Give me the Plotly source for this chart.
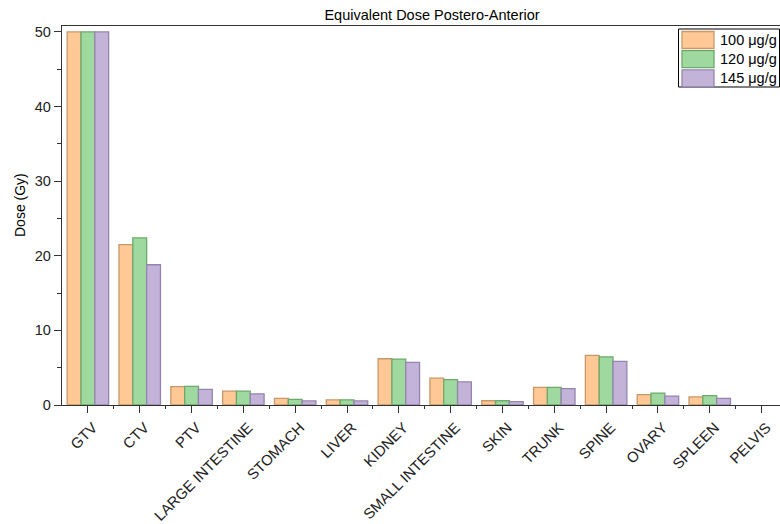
import plotly.graph_objects as go

# Organs / regions of interest
categories = ["GTV", "CTV", "PTV", "LARGE INTESTINE", "STOMACH", "LIVER", "KIDNEY",
              "SMALL INTESTINE", "SKIN", "TRUNK", "SPINE", "OVARY", "SPLEEN", "PELVIS"]

# Equivalent dose (Gy) per activity concentration
dose_100 = [50, 21.5, 2.45, 1.85, 0.9, 0.7, 6.2, 3.6, 0.57, 2.35, 6.65, 1.4, 1.08, 0]
dose_120 = [50, 22.4, 2.5, 1.85, 0.76, 0.7, 6.15, 3.4, 0.57, 2.35, 6.45, 1.6, 1.25, 0]
dose_145 = [50, 18.8, 2.1, 1.5, 0.54, 0.55, 5.7, 3.1, 0.44, 2.2, 5.85, 1.2, 0.9, 0]

series_names = ["100 μg/g", "120 μg/g", "145 μg/g"]
fill_colors = ["#FFC895", "#A0D9A0", "#C3B3D9"]
line_colors = ["#C9986A", "#6BAA6B", "#9585AD"]

FONT = "Arial, Liberation Sans, sans-serif"
W, H = 780, 524
ML, MR, MT, MB = 62, 0, 26, 119
PW, PH = W - ML - MR, H - MT - MB

x_pos = list(range(len(categories)))

fig = go.Figure()
for name, vals, fc, lc in zip(series_names, [dose_100, dose_120, dose_145], fill_colors, line_colors):
    fig.add_trace(go.Bar(
        x=x_pos, y=vals, name=name,
        # zero-height bars get no outline so nothing shows on the axis
        marker=dict(color=fc, line=dict(color=lc, width=[1.3 if v > 0 else 0 for v in vals])),
        showlegend=False,
    ))


def px_x(px):
    return (px - ML) / PW


def px_y(py):
    return (H - MB - py) / PH


# Boxed legend with wide swatches
shapes = [dict(type="rect", xref="paper", yref="paper",
               x0=px_x(678.5), x1=px_x(779.5), y0=px_y(87), y1=px_y(29),
               line=dict(color="#000000", width=1), fillcolor="white", layer="above")]
annotations = []
for i, (name, fc, lc) in enumerate(zip(series_names, fill_colors, line_colors)):
    top = 31.5 + i * 19.2
    shapes.append(dict(type="rect", xref="paper", yref="paper",
                       x0=px_x(682), x1=px_x(714), y0=px_y(top + 17), y1=px_y(top),
                       line=dict(color=lc, width=1.3), fillcolor=fc, layer="above"))
    annotations.append(dict(xref="paper", yref="paper", x=px_x(718), y=px_y(top + 8.5),
                            text=name, showarrow=False, xanchor="left", yanchor="middle",
                            font=dict(family=FONT, size=14.5, color="#000000")))

# Vertical axis title
annotations.append(dict(xref="paper", yref="paper", x=px_x(20), y=px_y(205),
                        text="Dose (Gy)", textangle=-90, showarrow=False,
                        xanchor="center", yanchor="middle",
                        font=dict(family=FONT, size=14, color="#000000")))

fig.update_layout(
    width=W, height=H,
    margin=dict(l=ML, r=MR, t=MT, b=MB, pad=0),
    paper_bgcolor="white", plot_bgcolor="white",
    barmode="group", bargap=0.2, bargroupgap=0,
    font=dict(family=FONT, color="#000000"),
    title=dict(text="Equivalent Dose Postero-Anterior", x=px_x(432), xref="paper",
               xanchor="center", y=1 - 15 / H, yref="container", yanchor="middle",
               font=dict(family=FONT, size=14.5, color="#000000")),
    shapes=shapes,
    annotations=annotations,
    xaxis=dict(
        range=[-0.5, -0.5 + PW / 51.82],
        tickmode="array", tickvals=x_pos, ticktext=categories,
        tickangle=-45, tickfont=dict(family=FONT, size=14.8, color="#222222"),
        ticklabelshift=5,
        ticks="outside", ticklen=7, tickwidth=1.2, tickcolor="#333333",
        minor=dict(tickmode="array", tickvals=[i + 0.5 for i in x_pos],
                   ticks="outside", ticklen=3, tickwidth=1, tickcolor="#333333"),
        showline=True, linecolor="#333333", linewidth=1.3, mirror=True,
        showgrid=False, zeroline=False,
    ),
    yaxis=dict(
        range=[0, 50.8],
        tickmode="linear", tick0=0, dtick=10,
        tickfont=dict(family=FONT, size=14.5, color="#222222"),
        ticks="outside", ticklen=7, tickwidth=1.2, tickcolor="#333333",
        minor=dict(dtick=5, ticks="outside", ticklen=4, tickwidth=1, tickcolor="#333333"),
        showline=True, linecolor="#333333", linewidth=1.3,
        showgrid=False, zeroline=False,
    ),
)

fig.write_html("out.html")
